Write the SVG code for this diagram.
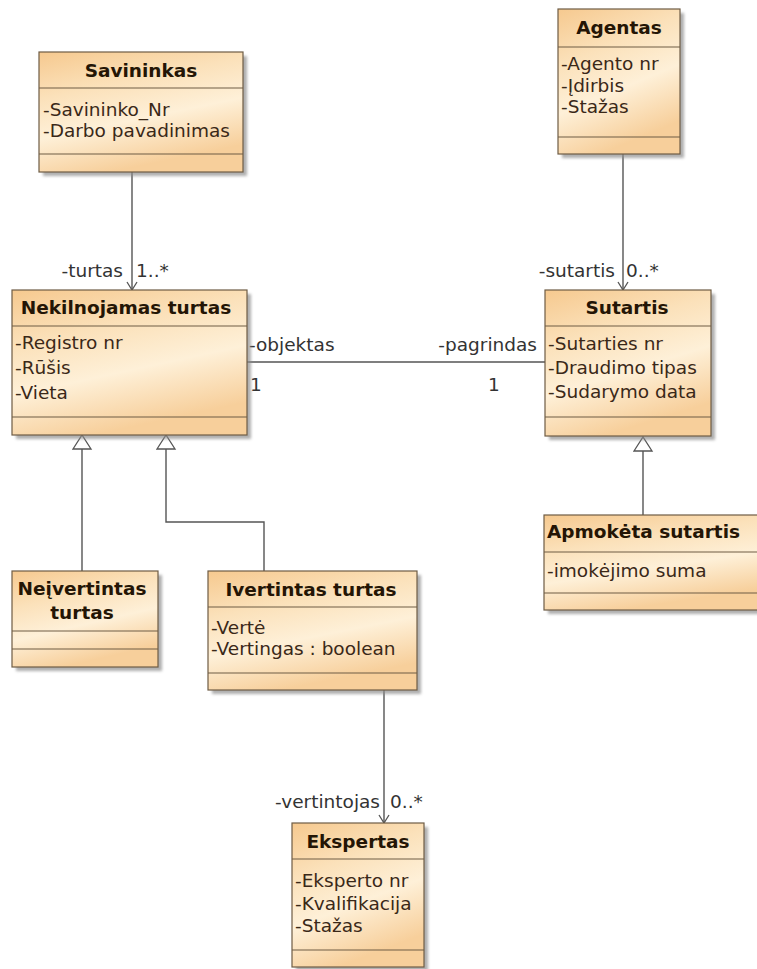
<svg xmlns="http://www.w3.org/2000/svg" width="757" height="969" viewBox="0 0 757 969">
  <defs>
    <linearGradient id="classFill" x1="0" y1="0" x2="0.35" y2="1">
      <stop offset="0" stop-color="#f6c98f"/>
      <stop offset="0.35" stop-color="#fbe1ba"/>
      <stop offset="0.65" stop-color="#fef0d8"/>
      <stop offset="1" stop-color="#f7cf9b"/>
    </linearGradient>
    <filter id="shadow" x="-10%" y="-10%" width="130%" height="130%">
      <feGaussianBlur stdDeviation="1.5"/>
    </filter>
    <marker id="openArrow" markerUnits="userSpaceOnUse" markerWidth="14" markerHeight="14" refX="9" refY="6" orient="auto">
      <path d="M1,1 L9,6 L1,11" fill="none" stroke="#555" stroke-width="1.3"/>
    </marker>
    <marker id="genTriangle" markerUnits="userSpaceOnUse" markerWidth="20" markerHeight="22" refX="15" refY="10" orient="auto">
      <path d="M1,1 L15,10 L1,19 Z" fill="#fff" stroke="#555" stroke-width="1.3"/>
    </marker>
  </defs>
  <style>
    .shadow { fill: #8c8c8c; opacity: 0.7; filter: url(#shadow); }
    .box { fill: url(#classFill); stroke: #6e5c45; stroke-width: 1.2; }
    .div { stroke: #6e5c45; stroke-width: 1.2; }
    .name { font-family: "DejaVu Sans", Verdana, sans-serif; font-weight: bold; font-size: 18.5px; fill: #241505; text-anchor: middle; }
    .attr { font-family: "DejaVu Sans", Verdana, sans-serif; font-size: 18.5px; fill: #3a2818; }
    .lbl { font-family: "DejaVu Sans", Verdana, sans-serif; font-size: 18.5px; fill: #333; }
    .end { text-anchor: end; }
    .line { fill: none; stroke: #555; stroke-width: 1.4; }
  </style>

  <rect width="757" height="969" fill="#fff"/>

  <!-- connectors -->
  <g id="connectors">
    <path class="line" d="M132,172 V290" marker-end="url(#openArrow)"/>
    <path class="line" d="M623,154 V290" marker-end="url(#openArrow)"/>
    <path class="line" d="M247,362 H545"/>
    <path class="line" d="M82,571 V435" marker-end="url(#genTriangle)"/>
    <path class="line" d="M264,571 V522 H166 V435" marker-end="url(#genTriangle)"/>
    <path class="line" d="M643,515 V437" marker-end="url(#genTriangle)"/>
    <path class="line" d="M384,690 V823" marker-end="url(#openArrow)"/>

    <text class="lbl end" x="123" y="277">-turtas</text>
    <text class="lbl" x="136" y="277">1..*</text>
    <text class="lbl end" x="615" y="277">-sutartis</text>
    <text class="lbl" x="626" y="277">0..*</text>
    <text class="lbl" x="249" y="351">-objektas</text>
    <text class="lbl" x="250" y="391">1</text>
    <text class="lbl end" x="537" y="351">-pagrindas</text>
    <text class="lbl" x="488" y="391">1</text>
    <text class="lbl end" x="380" y="808">-vertintojas</text>
    <text class="lbl" x="390" y="808">0..*</text>
  </g>

  <g id="savininkas">
    <rect class="shadow" x="43" y="56" width="204" height="120"/>
    <rect class="box" x="39" y="52" width="204" height="120"/>
    <line class="div" x1="39" y1="88" x2="243" y2="88"/>
    <line class="div" x1="39" y1="154" x2="243" y2="154"/>
    <text class="name" x="141" y="77">Savininkas</text>
    <text class="attr" x="43" y="116">-Savininko_Nr</text>
    <text class="attr" x="43" y="137">-Darbo pavadinimas</text>
  </g>

  <g id="agentas">
    <rect class="shadow" x="562" y="13" width="122" height="145"/>
    <rect class="box" x="558" y="9" width="122" height="145"/>
    <line class="div" x1="558" y1="47" x2="680" y2="47"/>
    <line class="div" x1="558" y1="137" x2="680" y2="137"/>
    <text class="name" x="619" y="34">Agentas</text>
    <text class="attr" x="561" y="70">-Agento nr</text>
    <text class="attr" x="561" y="92">-Įdirbis</text>
    <text class="attr" x="561" y="113">-Stažas</text>
  </g>

  <g id="nekilnojamas-turtas">
    <rect class="shadow" x="16" y="294" width="235" height="145"/>
    <rect class="box" x="12" y="290" width="235" height="145"/>
    <line class="div" x1="12" y1="326" x2="247" y2="326"/>
    <line class="div" x1="12" y1="417" x2="247" y2="417"/>
    <text class="name" x="126" y="314">Nekilnojamas turtas</text>
    <text class="attr" x="15" y="349">-Registro nr</text>
    <text class="attr" x="15" y="374">-Rūšis</text>
    <text class="attr" x="15" y="399">-Vieta</text>
  </g>

  <g id="sutartis">
    <rect class="shadow" x="549" y="294" width="166" height="146"/>
    <rect class="box" x="545" y="290" width="166" height="146"/>
    <line class="div" x1="545" y1="326" x2="711" y2="326"/>
    <line class="div" x1="545" y1="417" x2="711" y2="417"/>
    <text class="name" x="627" y="314">Sutartis</text>
    <text class="attr" x="548" y="350">-Sutarties nr</text>
    <text class="attr" x="548" y="374">-Draudimo tipas</text>
    <text class="attr" x="548" y="398">-Sudarymo data</text>
  </g>

  <g id="apmoketa-sutartis">
    <rect class="shadow" x="548" y="519" width="220" height="95"/>
    <rect class="box" x="544" y="515" width="220" height="95"/>
    <line class="div" x1="544" y1="552" x2="764" y2="552"/>
    <line class="div" x1="544" y1="593" x2="764" y2="593"/>
    <text class="name" x="547" y="538" style="text-anchor:start">Apmokėta sutartis</text>
    <text class="attr" x="547" y="577">-imokėjimo suma</text>
  </g>

  <g id="neivertintas-turtas">
    <rect class="shadow" x="16" y="575" width="146" height="96"/>
    <rect class="box" x="12" y="571" width="146" height="96"/>
    <line class="div" x1="12" y1="631" x2="158" y2="631"/>
    <line class="div" x1="12" y1="649" x2="158" y2="649"/>
    <text class="name" x="82" y="595">Neįvertintas</text>
    <text class="name" x="82" y="619">turtas</text>
  </g>

  <g id="ivertintas-turtas">
    <rect class="shadow" x="212" y="575" width="209" height="119"/>
    <rect class="box" x="208" y="571" width="209" height="119"/>
    <line class="div" x1="208" y1="607" x2="417" y2="607"/>
    <line class="div" x1="208" y1="673" x2="417" y2="673"/>
    <text class="name" x="311" y="596">Ivertintas turtas</text>
    <text class="attr" x="211" y="634">-Vertė</text>
    <text class="attr" x="211" y="655">-Vertingas : boolean</text>
  </g>

  <g id="ekspertas">
    <rect class="shadow" x="296" y="827" width="132" height="144"/>
    <rect class="box" x="292" y="823" width="132" height="144"/>
    <line class="div" x1="292" y1="859" x2="424" y2="859"/>
    <line class="div" x1="292" y1="950" x2="424" y2="950"/>
    <text class="name" x="358" y="848">Ekspertas</text>
    <text class="attr" x="295" y="887">-Eksperto nr</text>
    <text class="attr" x="295" y="910">-Kvalifikacija</text>
    <text class="attr" x="295" y="932">-Stažas</text>
  </g>
</svg>
